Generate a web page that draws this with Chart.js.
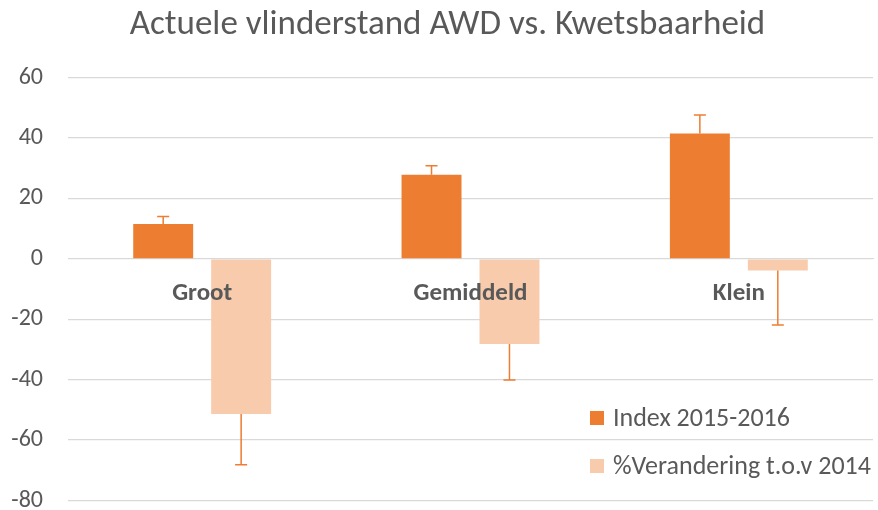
<!DOCTYPE html>
<html>
<head>
<meta charset="utf-8">
<script src="https://cdn.jsdelivr.net/npm/chart.js@4.4.1/dist/chart.umd.min.js"></script>
<style>
html,body{margin:0;padding:0;background:#fff;}
#wrap{position:relative;width:878px;height:510px;}
</style>
</head>
<body>
<div id="wrap"><canvas id="c" width="878" height="510"></canvas></div>
<script>
const categories = ["Groot", "Gemiddeld", "Klein"];
const indexValues = [11.5, 27.8, 41.5];
const indexErrPlus = [2.5, 3.0, 6.1];
const veranderingValues = [-51.4, -28.2, -3.9];
const veranderingErrMinus = [16.8, 11.9, 18.0];
const seriesNames = ["Index 2015-2016", "%Verandering t.o.v 2014"];
const yTicks = [-80, -60, -40, -20, 0, 20, 40, 60];

const FONT = "Carlito, Lato, 'Open Sans', sans-serif";
const TXT = "#595959";
const COLORS = ["#ED7D31", "#F8CBAD"];
const errors = [
  {dir: 1, vals: indexErrPlus},
  {dir: -1, vals: veranderingErrMinus}
];

const errorBarPlugin = {
  id: 'errorBars',
  afterDatasetsDraw(chart) {
    const ctx = chart.ctx;
    const ys = chart.scales.y;
    chart.data.datasets.forEach((ds, di) => {
      const meta = chart.getDatasetMeta(di);
      const e = errors[di];
      meta.data.forEach((bar, i) => {
        const v = ds.data[i];
        const end = v + e.dir * e.vals[i];
        const x = bar.x;
        const y0 = ys.getPixelForValue(v);
        const y1 = ys.getPixelForValue(end);
        ctx.save();
        ctx.strokeStyle = "#ED7D31";
        ctx.lineWidth = 1.5;
        ctx.beginPath();
        ctx.moveTo(x, y0);
        ctx.lineTo(x, y1);
        ctx.moveTo(x - 6, y1);
        ctx.lineTo(x + 6, y1);
        ctx.stroke();
        ctx.restore();
      });
    });
  }
};

const legendPlugin = {
  id: 'innerLegend',
  afterDraw(chart) {
    const ctx = chart.ctx;
    const a = chart.chartArea;
    const x0 = a.right - 283;
    const y0 = a.bottom - 82.5;
    ctx.save();
    ctx.font = "26px " + FONT;
    ctx.textBaseline = "middle";
    ctx.textAlign = "left";
    chart.data.datasets.forEach((ds, i) => {
      const y = y0 + i * 48;
      ctx.fillStyle = ds.backgroundColor;
      ctx.fillRect(x0, y - 7, 14, 14);
      ctx.fillStyle = TXT;
      ctx.fillText(ds.label, x0 + 23, y + 1);
    });
    ctx.restore();
  }
};

const titleShift = {
  id: 'titleShift',
  afterLayout(chart) {
    if (chart.titleBlock) { chart.titleBlock.left += 22; }
  }
};

new Chart(document.getElementById('c'), {
  type: 'bar',
  data: {
    labels: categories,
    datasets: [
      {label: seriesNames[0], data: indexValues, backgroundColor: COLORS[0],
       categoryPercentage: 0.581, barPercentage: 0.769},
      {label: seriesNames[1], data: veranderingValues, backgroundColor: COLORS[1],
       categoryPercentage: 0.581, barPercentage: 0.769}
    ]
  },
  options: {
    responsive: false,
    animation: false,
    layout: {padding: {left: 0, right: 5, top: 0, bottom: 9.5}},
    plugins: {
      legend: {display: false},
      tooltip: {enabled: false},
      title: {
        display: true,
        text: "Actuele vlinderstand AWD vs. Kwetsbaarheid",
        color: TXT,
        font: {family: FONT, size: 35, weight: 'normal'},
        padding: {top: 4, bottom: 31.5}
      }
    },
    scales: {
      x: {
        position: {y: 0},
        afterFit(scale) { scale.height = 0; },
        grid: {display: false, drawTicks: false},
        border: {display: true, color: "#D9D9D9", width: 1},
        ticks: {z: 1, color: TXT, font: {family: FONT, size: 25, weight: 'bold'}, padding: 20}
      },
      y: {
        min: -80, max: 60,
        afterBuildTicks(scale) { scale.ticks = yTicks.map(v => ({value: v})); },
        afterFit(scale) { scale.width = 68; scale.paddingTop = 0; scale.paddingBottom = 0; },
        grid: {color: "#D9D9D9", lineWidth: 1.3, drawTicks: false},
        border: {display: false},
        ticks: {color: TXT, font: {family: FONT, size: 24}, padding: 25}
      }
    }
  },
  plugins: [errorBarPlugin, legendPlugin, titleShift]
});
</script>
</body>
</html>
